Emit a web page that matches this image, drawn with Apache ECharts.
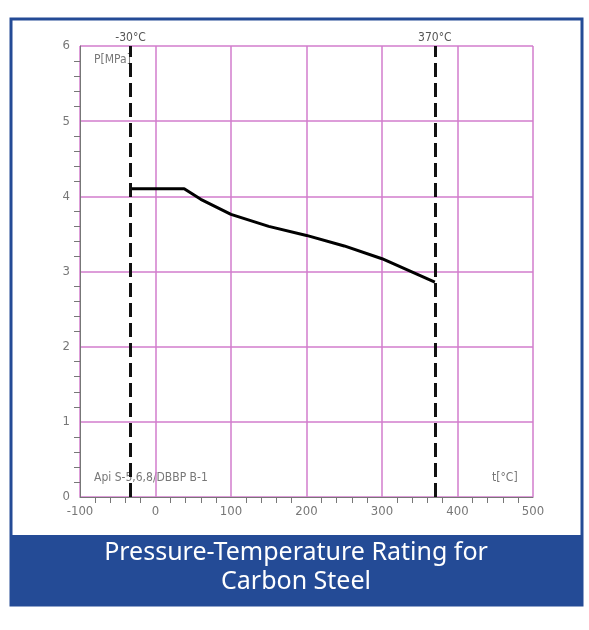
<!DOCTYPE html>
<html><head><meta charset="utf-8">
<script src="https://cdn.jsdelivr.net/npm/echarts@6/dist/echarts.min.js"></script>
<style>html,body{margin:0;padding:0;background:#fff}#c{width:589px;height:630px}</style>
</head><body><div id="c"></div>
<script>
const temps = [-33, 38, 60, 100, 150, 200, 250, 300, 370];
const pressures = [4.1, 4.1, 3.96, 3.76, 3.6, 3.48, 3.34, 3.17, 2.86];
const limitTemps = [-33, 370];
const limitLabels = ['-30°C', '370°C'];
const xTicks = [-100, 0, 100, 200, 300, 400, 500];

const chart = echarts.init(document.getElementById('c'));
const lblFont = {color:'#777', fontFamily:'DejaVu Sans Condensed', fontSize:13};
chart.setOption({
  animation:false,
  graphic:[
    {type:'rect', z:-10, shape:{x:11,y:19,width:571,height:586}, style:{fill:'#fff', stroke:'#244b96', lineWidth:3}},
    {type:'rect', z:-9, shape:{x:10,y:535,width:573,height:71}, style:{fill:'#244b96'}},
    {type:'text', x:296, y:538, style:{text:'Pressure-Temperature Rating for\nCarbon Steel', fill:'#fff', font:'25px "Noto Sans"', align:'center', lineHeight:29}},
    {type:'text', left:94, top:54, style:{text:'P[MPa]', fill:'#777', font:'12px "DejaVu Sans Condensed"'}},
    {type:'text', left:94, top:472, style:{text:'Api S-5,6,8/DBBP B-1', fill:'#777', font:'12px "DejaVu Sans Condensed"'}},
    {type:'text', left:492, top:472, style:{text:'t[°C]', fill:'#777', font:'12px "DejaVu Sans Condensed"'}}
  ],
  grid:{left:80, right:56, top:46, bottom:133},
  xAxis:{type:'value', min:-100, max:500, interval:100,
    axisLine:{onZero:false, lineStyle:{color:'#777'}}, axisTick:{show:false},
    minorTick:{show:true, splitNumber:5, length:6, lineStyle:{color:'#777'}},
    axisLabel:Object.assign({margin:8, formatter:v=>xTicks.includes(v)?String(v):''}, lblFont),
    splitLine:{show:true, lineStyle:{color:'#d27ccc', width:1.5}}},
  yAxis:{type:'value', min:0, max:6, interval:1,
    axisLine:{show:true, onZero:false, lineStyle:{color:'#777'}}, axisTick:{show:false},
    minorTick:{show:true, splitNumber:5, length:6, lineStyle:{color:'#777'}},
    axisLabel:Object.assign({margin:10}, lblFont),
    splitLine:{show:true, lineStyle:{color:'#d27ccc', width:1.5}}},
  series:[
    {type:'line', data:temps.map((t,i)=>[t,pressures[i]]), smooth:false, symbol:'none',
     lineStyle:{color:'#000', width:3},
     markLine:{symbol:'none', silent:true,
       lineStyle:{color:'#111', type:[14,6], width:3},
       label:{position:'end', color:'#555', fontFamily:'DejaVu Sans Condensed', fontSize:12, formatter:p=>limitLabels[p.dataIndex], distance:2},
       data:limitTemps.map(t=>({xAxis:t}))}}
  ]
});
</script></body></html>
